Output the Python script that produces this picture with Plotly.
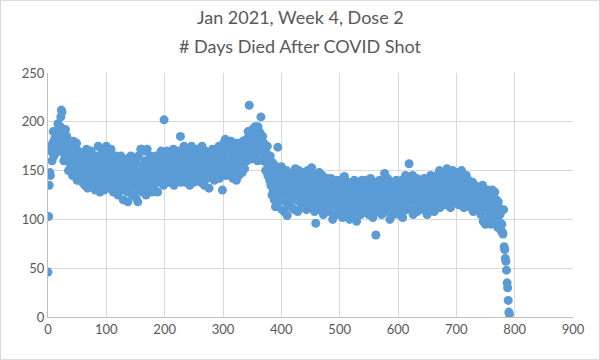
import plotly.graph_objects as go

# y values (days died after shot), one per x index in rows of 20
days = [
    46, 103, 135, 148, 145, 170, 175, 160, 178, 190, 165, 182, 172, 168, 185, 190, 176, 198, 180, 170,
    175, 195, 205, 212, 210, 188, 170, 160, 182, 165, 192, 178, 185, 160, 170, 150, 175, 165, 180, 155,
    160, 172, 145, 168, 180, 155, 150, 165, 162, 178, 140, 158, 170, 148, 152, 165, 145, 160, 150, 138,
    155, 142, 168, 135, 150, 160, 172, 145, 132, 158, 148, 165, 138, 150, 170, 142, 155, 135, 160, 148,
    145, 130, 158, 165, 140, 150, 175, 135, 155, 128, 148, 160, 142, 170, 136, 152, 130, 165, 145, 155,
    175, 140, 160, 150, 132, 168, 145, 155, 172, 138, 150, 162, 128, 145, 158, 140, 165, 135, 150, 148,
    125, 160, 142, 152, 138, 165, 130, 148, 155, 120, 145, 160, 135, 150, 142, 162, 128, 118, 140, 155,
    148, 130, 165, 138, 152, 125, 145, 160, 135, 150, 142, 122, 158, 140, 118, 165, 130, 148, 138, 172,
    172, 140, 155, 128, 170, 148, 135, 160, 125, 150, 172, 142, 158, 132, 145, 165, 138, 150, 128, 155,
    160, 135, 148, 130, 155, 165, 142, 150, 128, 158, 145, 162, 138, 152, 170, 140, 148, 160, 135, 202,
    150, 165, 140, 158, 170, 145, 155, 162, 138, 150, 168, 142, 160, 155, 148, 172, 135, 152, 165, 145,
    158, 140, 170, 150, 162, 145, 155, 185, 138, 168, 152, 160, 142, 175, 150, 165, 138, 158, 172, 148,
    145, 168, 155, 135, 162, 150, 175, 142, 158, 165, 138, 170, 152, 148, 160, 140, 172, 155, 145, 168,
    150, 162, 138, 158, 175, 145, 168, 152, 135, 160, 170, 148, 155, 142, 165, 158, 132, 150, 168, 145,
    160, 155, 172, 148, 165, 140, 158, 170, 150, 162, 145, 168, 155, 175, 142, 160, 152, 170, 148, 130,
    165, 178, 150, 160, 182, 145, 170, 158, 175, 155, 168, 148, 172, 160, 180, 152, 165, 142, 170, 158,
    175, 150, 162, 140, 178, 155, 168, 145, 172, 160, 150, 175, 165, 148, 180, 158, 170, 152, 165, 178,
    182, 160, 175, 190, 168, 217, 178, 185, 170, 162, 192, 180, 175, 188, 165, 195, 178, 170, 185, 160,
    195, 180, 190, 172, 188, 205, 175, 168, 185, 160, 178, 165, 172, 150, 168, 158, 175, 145, 162, 155,
    140, 165, 135, 150, 125, 158, 130, 145, 120, 155, 113, 138, 128, 150, 174, 118, 142, 132, 125, 148,
    154, 110, 135, 125, 145, 108, 130, 140, 118, 150, 104, 128, 138, 115, 145, 122, 132, 142, 112, 135,
    125, 148, 110, 138, 152, 120, 132, 142, 108, 128, 150, 118, 135, 145, 112, 130, 140, 122, 148, 115,
    135, 125, 142, 110, 130, 150, 118, 138, 128, 145, 112, 132, 153, 120, 140, 125, 135, 108, 145, 96,
    128, 140, 115, 135, 122, 148, 110, 132, 138, 118, 145, 125, 105, 130, 140, 115, 135, 122, 142, 110,
    130, 120, 138, 108, 125, 142, 115, 132, 100, 128, 138, 118, 125, 135, 105, 122, 140, 112, 130, 120,
    135, 110, 128, 122, 140, 102, 118, 130, 144, 115, 125, 108, 132, 120, 138, 112, 128, 100, 122, 135,
    115, 128, 105, 135, 120, 140, 110, 125, 132, 98, 118, 138, 112, 128, 122, 135, 105, 130, 140, 115,
    125, 132, 108, 138, 118, 128, 140, 112, 122, 135, 105, 130, 118, 142, 110, 125, 132, 102, 120, 138,
    115, 128, 84, 122, 135, 108, 130, 118, 140, 112, 125, 132, 105, 120, 138, 115, 128, 147, 110, 125,
    130, 118, 142, 108, 125, 135, 100, 120, 130, 112, 128, 138, 105, 122, 132, 115, 125, 140, 110, 128,
    118, 135, 105, 125, 130, 112, 140, 120, 102, 128, 135, 115, 122, 145, 110, 130, 118, 138, 125, 157,
    125, 140, 110, 132, 120, 145, 105, 128, 138, 115, 130, 122, 142, 108, 125, 135, 118, 128, 140, 112,
    130, 120, 138, 125, 110, 142, 132, 118, 128, 140, 105, 125, 135, 115, 130, 122, 145, 110, 128, 138,
    120, 132, 108, 140, 125, 135, 115, 145, 128, 118, 138, 150, 112, 130, 122, 142, 132, 148, 118, 135,
    125, 145, 115, 138, 152, 128, 120, 142, 135, 148, 112, 130, 140, 125, 150, 118, 135, 145, 128, 138,
    122, 140, 148, 130, 115, 135, 145, 125, 138, 150, 118, 132, 142, 112, 128, 138, 120, 145, 130, 115,
    128, 140, 118, 135, 125, 112, 132, 120, 138, 108, 128, 122, 135, 115, 130, 125, 118, 132, 110, 128,
    120, 132, 105, 125, 115, 135, 98, 122, 110, 128, 95, 118, 125, 108, 130, 100, 120, 128, 112, 95,
    125, 110, 130, 118, 105, 122, 128, 100, 115, 120, 108, 92, 118, 112, 97, 105, 110, 88, 95, 87,
    85, 110, 72, 69, 60, 57, 48, 35, 30, 17, 5, 3,
]
index = list(range(len(days)))

x_ticks = [0, 100, 200, 300, 400, 500, 600, 700, 800, 900]
y_ticks = [0, 50, 100, 150, 200, 250]

title_lines = ["Jan 2021, Week 4, Dose 2", "# Days Died After COVID Shot"]

fig = go.Figure(
    go.Scatter(
        x=index,
        y=days,
        mode="markers",
        marker=dict(color="#5b9bd5", size=9, line=dict(width=0)),
        hoverinfo="x+y",
    )
)

grid = "#d9d9d9"
font_col = "#595959"
fam = "Lato, Liberation Sans, sans-serif"
fig.update_layout(
    width=600,
    height=360,
    margin=dict(l=48, r=27, t=73, b=43, autoexpand=False),
    paper_bgcolor="white",
    plot_bgcolor="white",
    showlegend=False,
    font=dict(family=fam, color=font_col, size=13),
    xaxis=dict(
        range=[0, 900],
        tickvals=x_ticks,
        showgrid=True,
        gridcolor=grid,
        gridwidth=1,
        zeroline=False,
        showline=True,
        linecolor="#bfbfbf",
        linewidth=1,
        ticks="",
        tickfont=dict(size=13, color=font_col),
        automargin=False,
        fixedrange=True,
    ),
    yaxis=dict(
        range=[0, 250],
        tickvals=y_ticks,
        showgrid=True,
        gridcolor=grid,
        gridwidth=1,
        zeroline=False,
        showline=True,
        linecolor="#bfbfbf",
        linewidth=1,
        ticks="",
        tickfont=dict(size=13, color=font_col),
        automargin=False,
        fixedrange=True,
    ),
)

# two-line chart title placed as annotations (container pixels -> paper coords)
pw, ph = 525.0, 244.0
for line, cy in zip(title_lines, [17, 46]):
    fig.add_annotation(
        text=line,
        xref="paper",
        yref="paper",
        x=(300 - 48) / pw,
        y=(317 - cy) / ph,
        xanchor="center",
        yanchor="middle",
        showarrow=False,
        font=dict(size=18, color=font_col, family=fam),
    )

# light border around the chart area
fig.add_shape(
    type="rect",
    xref="paper",
    yref="paper",
    x0=(0.5 - 48) / pw,
    x1=(599.5 - 48) / pw,
    y0=(317 - 359.5) / ph,
    y1=(317 - 0.5) / ph,
    line=dict(color="#d9d9d9", width=1),
    fillcolor="rgba(0,0,0,0)",
    layer="below",
)

fig.write_html(
    "out.html",
    config={"displayModeBar": False},
    post_script="document.body.style.margin='0';document.body.style.overflow='hidden';",
)
